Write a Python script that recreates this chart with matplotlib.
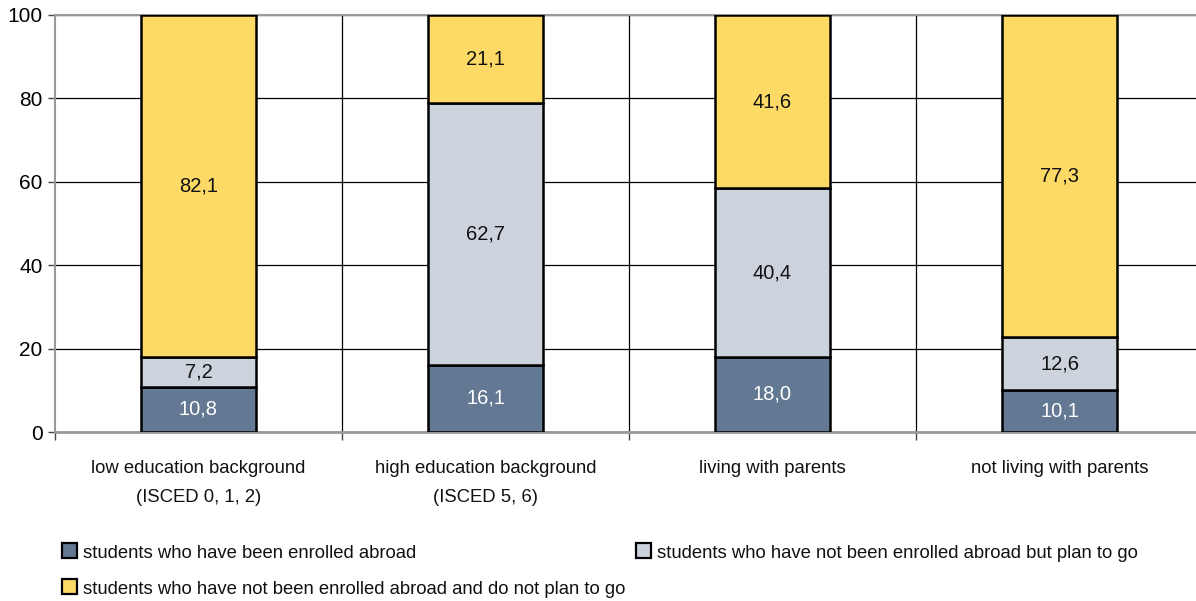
import matplotlib
matplotlib.use("Agg")
import matplotlib.pyplot as plt
from matplotlib.patches import Rectangle
import numpy as np

plt.rcParams['font.family'] = ['Liberation Sans', 'DejaVu Sans']

categories = ["low education background\n(ISCED 0, 1, 2)",
              "high education background\n(ISCED 5, 6)",
              "living with parents",
              "not living with parents"]
enrolled = [10.8, 16.1, 18.0, 10.1]
plan_to_go = [7.2, 62.7, 40.4, 12.6]
no_plan = [82.1, 21.1, 41.6, 77.3]
series_names = ["students who have been enrolled abroad",
                "students who have not been enrolled abroad but plan to go",
                "students who have not been enrolled abroad and do not plan to go"]
colors = ["#637892", "#CDD3DD", "#FDD966"]
text_colors = ["white", "#111111", "#111111"]
yticks = [0, 20, 40, 60, 80, 100]

FS = 13.3
fig = plt.figure(figsize=(11.96, 6.01), dpi=100)
W, H = 1196, 601
left, right, top, bottom = 55, 1203, 15, 432
ax = fig.add_axes([left / W, 1 - bottom / H, (right - left) / W, (bottom - top) / H])

x = np.arange(len(categories))
width = 0.4
bottoms = np.zeros(len(categories))
for vals, col, tcol in zip([enrolled, plan_to_go, no_plan], colors, text_colors):
    vals = np.array(vals)
    ax.bar(x, vals, width, bottom=bottoms, color=col, edgecolor="black", linewidth=1.8, zorder=3)
    for xi, b, v in zip(x, bottoms, vals):
        ax.text(xi, b + v / 2, f"{v:.1f}".replace(".", ","), ha="center", va="center",
                fontsize=14.5, color=tcol, zorder=4)
    bottoms += vals

ax.set_xlim(-0.5, len(categories) - 0.5)
ax.set_ylim(0, 100)
ax.set_yticks(yticks)
ax.set_yticklabels([str(t) for t in yticks], fontsize=15)
ax.tick_params(axis="y", length=5, width=1, color="#444444", pad=4)

# boundary ticks between categories, labels drawn as text
ax.set_xticks(np.arange(len(categories) + 1) - 0.5)
ax.set_xticklabels([])
ax.tick_params(axis="x", length=6, width=1, color="#444444")
for xi, lab in zip(x, categories):
    ax.text(xi, -6.7, lab, ha="center", va="top", fontsize=FS, color="#111111",
            linespacing=1.9)

ax.grid(axis="y", color="black", linewidth=0.9, zorder=0)
for b in np.arange(1, len(categories)) - 0.5:
    ax.axvline(b, color="black", linewidth=0.9, zorder=0)

ax.spines["right"].set_visible(False)
ax.spines["top"].set_color("#999999")
ax.spines["top"].set_linewidth(1.5)
ax.spines["left"].set_color("#999999")
ax.spines["left"].set_linewidth(1.5)
ax.spines["bottom"].set_color("#999999")
ax.spines["bottom"].set_linewidth(2)

# legend laid out row by row
legend_pos = [(62, 550), (636, 550), (62, 586)]
for (px, py), c, name in zip(legend_pos, colors, series_names):
    fig.patches.append(Rectangle((px / W, 1 - (py + 7.5) / H), 15 / W, 15 / H,
                                 transform=fig.transFigure, facecolor=c,
                                 edgecolor="black", linewidth=1.6))
    fig.text((px + 21) / W, 1 - (py + 1) / H, name, ha="left", va="center_baseline",
             fontsize=FS, color="#111111")

fig.savefig("out.png", dpi=100)
